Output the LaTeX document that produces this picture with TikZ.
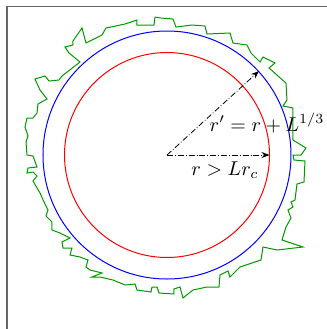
\documentclass[tikz,border=0pt]{standalone}
\usepackage{amsmath}
\usepackage{tikz}
\usetikzlibrary{arrows.meta}

\begin{document}
\begin{tikzpicture}[
  x=0.5pt, y=-0.5pt,
  frame/.style={draw=black!60, line width=0.9pt},
  core/.style={draw=red, line width=0.5pt},
  shell/.style={draw=blue, line width=0.5pt},
  rough/.style={draw=green!60!black, line width=0.5pt, line join=miter},
  arr/.style={-{Stealth[length=4pt,width=3pt]}, densely dash dot, line width=0.4pt},
  lbl/.style={inner sep=1pt, font=\normalsize}
]
\useasboundingbox (0,0) rectangle (327,329);

% frame corner
\draw[frame] (327,6.5) -- (7,6.5) -- (7,329);

\coordinate (o) at (167,155);
\coordinate (rr) at (269.5,155);
\coordinate (rp) at (259,71);

\draw[core] (o) circle[radius=51.25pt];
\draw[shell] (o) circle[radius=62pt];

% jagged boundary
\draw[rough] plot coordinates {
  (155,17) (161,18) (173,19) (176,27) (192,25) (205,26) (207,34) (230,33)
  (233,43) (247,45) (251,53) (260,62) (263,57) (275,63) (269,68) (278,76)
  (286,83) (287,100) (283,106) (293,108) (293,140) (306,148) (301,155)
  (293,155) (294,160) (305,161) (304,182) (297,184) (295,200) (291,202)
  (293,207) (288,210) (291,218) (286,227) (282,240) (303,247) (277,250)
  (263,247) (261,260) (240,267) (230,277) (228,271) (220,275) (219,287)
  (207,287) (193,290) (183,298) (180,287) (174,289) (174,294) (159,293)
  (157,287) (152,287) (151,292) (137,290) (135,284) (125,285) (113,280)
  (100,277) (92,277) (102,273) (90,270) (86,267) (88,260) (80,257) (70,255)
  (72,248) (63,248) (62,242) (70,238) (60,233) (52,230) (52,222) (46,216)
  (48,210) (45,204) (40,193) (33,181) (37,176) (33,172) (27,173) (28,168)
  (37,167) (33,156) (27,155) (26,142) (28,136) (25,127) (27,118) (33,118)
  (37,113) (38,104) (47,99) (40,90) (35,79) (45,76) (49,81) (59,80) (62,76)
  (80,62) (69,53) (65,47) (73,45) (73,41) (82,28) (86,43) (102,35) (106,28)
  (125,24) (137,20) (137,25) (154,25) (155,17)
};

\draw[arr] (o) -- (rr);
\draw[arr] (o) -- (rp);

\node[lbl] (rlab) at (225,170) {$r > Lr_c$};
\node[lbl] (rplab) at (267,123) {$r' = r + L^{1/3}$};

\end{tikzpicture}
\end{document}
